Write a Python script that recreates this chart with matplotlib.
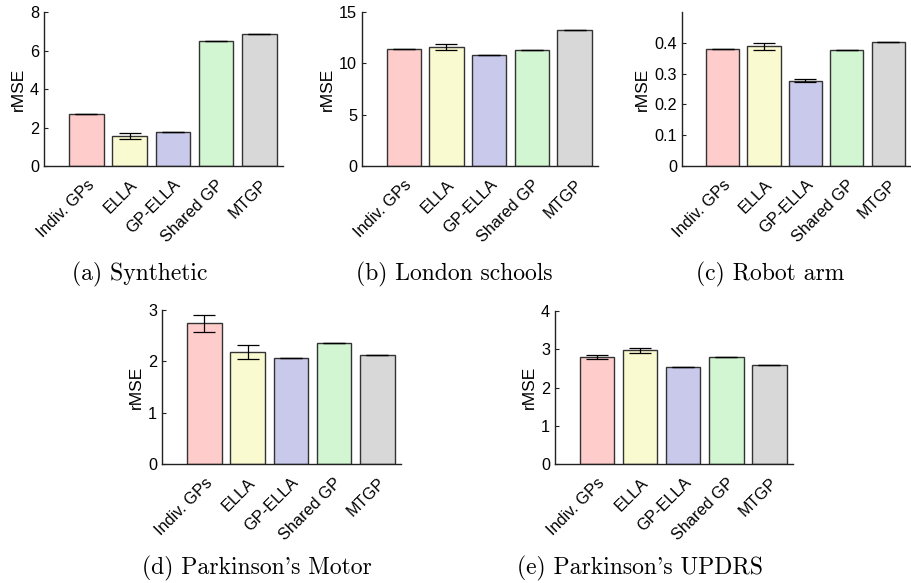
import matplotlib.pyplot as plt
import numpy as np

plt.rcParams['font.family'] = ['Liberation Sans', 'DejaVu Sans']

methods = ['Indiv. GPs', 'ELLA', 'GP-ELLA', 'Shared GP', 'MTGP']
colors = ['#FFCCCC', '#FAFAD0', '#C9C9EC', '#D2F5D2', '#D8D8D8']

synth = [2.72, 1.56, 1.76, 6.49, 6.86]
synth_err = [0.0, 0.15, 0.0, 0.0, 0.0]
london = [11.43, 11.60, 10.85, 11.30, 13.28]
london_err = [0.0, 0.29, 0.0, 0.0, 0.0]
robot = [0.379, 0.388, 0.277, 0.378, 0.401]
robot_err = [0.0, 0.012, 0.005, 0.0, 0.0]
motor = [2.74, 2.18, 2.07, 2.35, 2.12]
motor_err = [0.16, 0.14, 0.0, 0.0, 0.0]
updrs = [2.80, 2.97, 2.53, 2.81, 2.58]
updrs_err = [0.05, 0.075, 0.0, 0.0, 0.0]

panels = [
    # values, errors, ylim, yticks, ticklabels, axes rect (px: left, top, right, bottom), caption, caption xy (px)
    (synth, synth_err, 8, [0, 2, 4, 6, 8], None, (44, 12, 283, 166), '(a) Synthetic', (140, 274)),
    (london, london_err, 15, [0, 5, 10, 15], None, (362, 12, 598, 166), '(b) London schools', (454, 274)),
    (robot, robot_err, 0.5, [0, 0.1, 0.2, 0.3, 0.4], ['0', '0.1', '0.2', '0.3', '0.4'],
     (682, 12, 911, 166), '(c) Robot arm', (770, 274)),
    (motor, motor_err, 3, [0, 1, 2, 3], None, (162, 310, 401, 464), "(d) Parkinson's Motor", (257, 568)),
    (updrs, updrs_err, 4, [0, 1, 2, 3, 4], None, (555, 311, 793, 464), "(e) Parkinson's UPDRS", (640, 568)),
]

W, H = 911, 583
fig = plt.figure(figsize=(W / 100, H / 100), dpi=100)
x = np.arange(1, 6)

for vals, errs, ytop, yt, ytl, (l, t, r, b), cap, (cx, cy) in panels:
    ax = fig.add_axes([l / W, 1 - b / H, (r - l) / W, (b - t) / H])
    ax.bar(x, vals, width=0.8, color=colors, edgecolor='#333333', linewidth=1.0, zorder=2)
    ax.errorbar(x, vals, yerr=errs, fmt='none', ecolor='black', elinewidth=0.9,
                capsize=8, capthick=0.9, zorder=3)
    ax.set_xlim(0.02, 5.55)
    ax.set_ylim(0, ytop)
    ax.set_yticks(yt)
    if ytl:
        ax.set_yticklabels(ytl)
    ax.set_xticks(x)
    ax.set_xticklabels(methods, rotation=45, ha='right', rotation_mode='anchor')
    ax.set_ylabel('rMSE', fontsize=12.5, labelpad=3)
    for s in ['top', 'right']:
        ax.spines[s].set_visible(False)
    for s in ['left', 'bottom']:
        ax.spines[s].set_color('#222222')
        ax.spines[s].set_linewidth(1.0)
    ax.tick_params(axis='both', labelsize=11.7, direction='in', length=3, color='#222222')
    ax.tick_params(axis='x', length=0, pad=8)
    fig.text(cx / W, 1 - cy / H, cap, ha='center', va='center',
             family='cmr10', fontsize=17)

fig.savefig('out.png', dpi=100)
